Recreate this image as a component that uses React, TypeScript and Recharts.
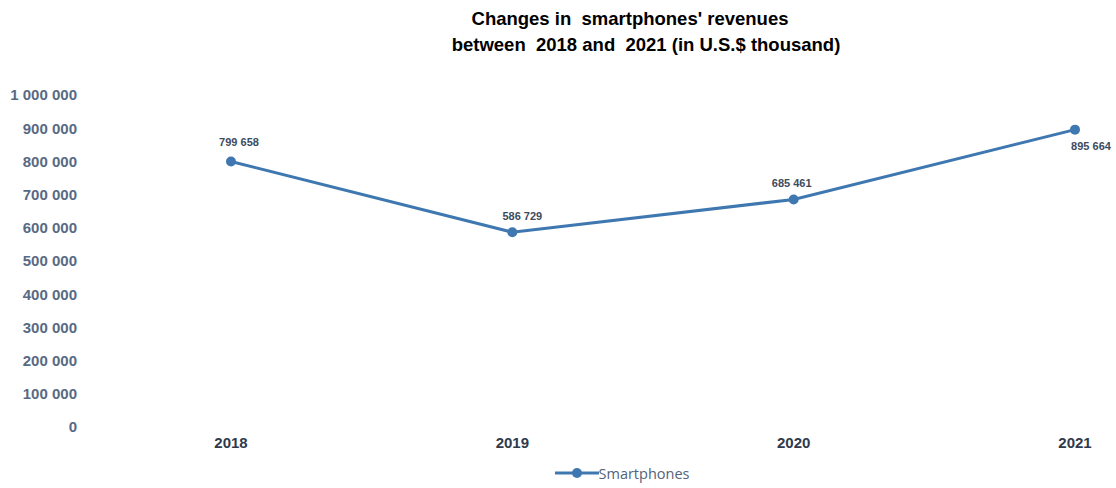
import { LineChart, Line, XAxis, YAxis, Legend, LabelList } from 'recharts'

const years = ['2018', '2019', '2020', '2021']
const revenues = [799658, 586729, 685461, 895664]
const yTicks = [0, 100000, 200000, 300000, 400000, 500000, 600000, 700000, 800000, 900000, 1000000]

const data = years.map((year, i) => ({ year, Smartphones: revenues[i] }))

const fmt = (v: number) => String(v).replace(/\B(?=(\d{3})+(?!\d))/g, ' ')

const font = '"Liberation Sans", Arial, sans-serif'
// small horizontal nudges of the value labels, as in the source
const labelDx = [8, 10, -2, 16]

function PointLabel(props: any) {
  const { x, y, value, index } = props
  const last = index === years.length - 1
  return (
    <text
      x={x + labelDx[index]}
      y={last ? y + 20 : y - (index === 0 ? 16 : 12)}
      textAnchor="middle"
      fontFamily={font}
      fontSize={11}
      fontWeight="bold"
      fill="#3d4b60"
    >
      {fmt(value)}
    </text>
  )
}

function LegendBox() {
  return (
    <div style={{ display: 'flex', justifyContent: 'center', alignItems: 'center', height: 30, paddingLeft: 128 }}>
      <svg width={44} height={12}>
        <line x1={0} y1={6} x2={44} y2={6} stroke="#3f78b0" strokeWidth={3} />
        <circle cx={22} cy={6} r={5} fill="#3f78b0" />
      </svg>
      <span style={{ fontFamily: '"Open Sans", sans-serif', fontSize: 14.5, color: '#52637a' }}>Smartphones</span>
    </div>
  )
}

export default function App() {
  return (
    <div style={{ position: 'absolute', left: 0, top: 0, width: 1116, height: 488, background: '#fff' }}>
      <div
        style={{
          position: 'absolute',
          top: 6,
          left: 0,
          width: 1116,
          fontFamily: font,
          fontWeight: 'bold',
          fontSize: 18.5,
          color: '#000',
          lineHeight: '26px',
        }}
      >
        <div style={{ position: 'absolute', left: 630, transform: 'translateX(-50%)', whiteSpace: 'pre' }}>
          {"Changes in  smartphones' revenues"}
        </div>
        <div style={{ position: 'absolute', top: 26, left: 646, transform: 'translateX(-50%)', whiteSpace: 'pre' }}>
          {'between  2018 and  2021 (in U.S.$ thousand)'}
        </div>
      </div>
      <LineChart width={1116} height={488} data={data} margin={{ top: 95, right: 0, bottom: 0, left: 0 }}>
        <XAxis
          dataKey="year"
          axisLine={false}
          tickLine={false}
          height={31}
          padding={{ left: 146, right: 41 }}
          tick={{ fontFamily: font, fontSize: 15, fontWeight: 'bold', fill: '#2f3a4c' }}
          tickMargin={4}
        />
        <YAxis
          domain={[0, 1000000]}
          ticks={yTicks}
          axisLine={false}
          tickLine={false}
          width={85}
          tickMargin={2}
          interval={0}
          tickFormatter={fmt}
          tick={{ fontFamily: font, fontSize: 15, fontWeight: 'bold', fill: '#586a83' }}
        />
        <Legend verticalAlign="bottom" height={30} content={() => <LegendBox />} />
        <Line
          type="linear"
          dataKey="Smartphones"
          stroke="#3f78b0"
          strokeWidth={3}
          dot={{ r: 5, fill: '#3f78b0', stroke: '#3f78b0', strokeWidth: 0 }}
          isAnimationActive={false}
        >
          <LabelList dataKey="Smartphones" content={<PointLabel />} />
        </Line>
      </LineChart>
    </div>
  )
}
